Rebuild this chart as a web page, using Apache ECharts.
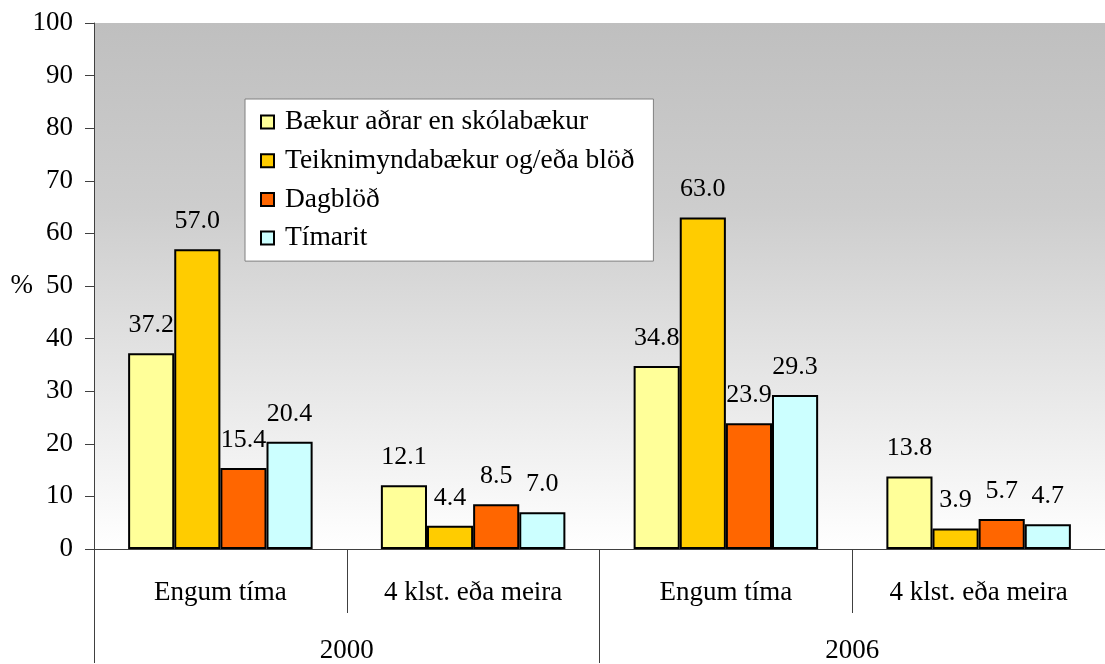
<!DOCTYPE html>
<html>
<head>
<meta charset="utf-8">
<script src="https://cdn.jsdelivr.net/npm/echarts@6/dist/echarts.min.js"></script>
<style>
  html, body { margin: 0; padding: 0; background: #ffffff; }
  #chart { width: 1105px; height: 664px; }
</style>
</head>
<body>
<div id="chart"></div>
<script>
// Categories (inner level) and years (outer level)
const categories = ['Engum tíma', '4 klst. eða meira', 'Engum tíma', '4 klst. eða meira'];
const years = ['2000', '2006'];

// Series names and values (%)
const seriesNames = ['Bækur aðrar en skólabækur', 'Teiknimyndabækur og/eða blöð', 'Dagblöð', 'Tímarit'];
const baekur  = [37.2, 12.1, 34.8, 13.8];
const teikni  = [57.0, 4.4, 63.0, 3.9];
const dagblod = [15.4, 8.5, 23.9, 5.7];
const timarit = [20.4, 7.0, 29.3, 4.7];

// Y axis scale
const yMin = 0, yMax = 100, yStep = 10;

const colors = ['#FFFF99', '#FFCC00', '#FF6600', '#CCFFFF'];
const FONT = "'Liberation Serif', 'Times New Roman', serif";

const chart = echarts.init(document.getElementById('chart'), null, { renderer: 'canvas' });

function barSeries(name, values, color) {
  return {
    name: name,
    type: 'bar',
    xAxisIndex: 0,
    data: values,
    barGap: '0%',
    barCategoryGap: '27%',
    itemStyle: { color: color, borderColor: '#000000', borderWidth: 2 },
    label: {
      show: true,
      position: 'top',
      distance: 15,
      color: '#000000',
      fontFamily: FONT,
      fontSize: 26,
      formatter: p => p.value.toFixed(1)
    }
  };
}

chart.setOption({
  animation: false,
  color: colors,
  grid: {
    left: 94, right: -5, top: 23, bottom: 114,
    show: true,
    borderWidth: 0,
    backgroundColor: new echarts.graphic.LinearGradient(0, 0, 0, 1, [
      { offset: 0, color: '#bfbfbf' },
      { offset: 0.35, color: '#cdcdcd' },
      { offset: 1, color: '#ffffff' }
    ])
  },
  legend: {
    orient: 'vertical',
    left: 245, top: 99,
    padding: [9, 19, 9, 15],
    itemWidth: 13, itemHeight: 13,
    itemGap: 10.7,
    backgroundColor: '#ffffff',
    borderColor: '#808080',
    borderWidth: 1,
    icon: 'rect',
    itemStyle: { borderColor: '#000000', borderWidth: 2 },
    textStyle: { fontFamily: FONT, fontSize: 27.5, color: '#000000', padding: [0, 0, 0, 6] },
    data: seriesNames
  },
  xAxis: [
    {
      type: 'category',
      data: categories,
      position: 'bottom',
      axisLine: { show: true, lineStyle: { color: '#404040', width: 1 } },
      axisTick: { show: true, length: 64, lineStyle: { color: '#404040' } },
      axisLabel: { margin: 30, fontFamily: FONT, fontSize: 27, color: '#000000' }
    },
    {
      type: 'category',
      data: years,
      position: 'bottom',
      axisLine: { show: false },
      axisTick: { show: true, length: 114, lineStyle: { color: '#404040' } },
      axisLabel: { margin: 88, fontFamily: FONT, fontSize: 27, color: '#000000' }
    }
  ],
  yAxis: {
    type: 'value',
    min: yMin, max: yMax, interval: yStep,
    name: '%',
    nameLocation: 'middle',
    nameRotate: 0,
    nameGap: 61,
    nameMoveOverlap: false,
    nameTextStyle: { fontFamily: FONT, fontSize: 27, color: '#000000', align: 'right' },
    axisLine: { show: true, lineStyle: { color: '#404040', width: 1 } },
    axisTick: { show: true, length: 9, lineStyle: { color: '#404040' } },
    axisLabel: { margin: 21, fontFamily: FONT, fontSize: 27, color: '#000000' },
    splitLine: { show: false }
  },
  series: [
    barSeries(seriesNames[0], baekur, colors[0]),
    barSeries(seriesNames[1], teikni, colors[1]),
    barSeries(seriesNames[2], dagblod, colors[2]),
    barSeries(seriesNames[3], timarit, colors[3])
  ]
});
</script>
</body>
</html>
